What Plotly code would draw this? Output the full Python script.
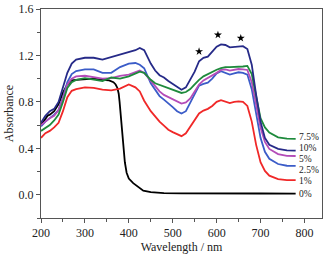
import plotly.graph_objects as go

wl = [200,210,220,230,240,250,260,270,280,300,320,340,360,380,400,415,425,435,450,460,470,480,490,500,
      510,520,530,540,550,560,570,580,590,600,610,620,630,640,650,660,670,680,690,700,710,720,740,760,780]

a10 = [0.62,0.68,0.72,0.74,0.80,0.92,1.05,1.13,1.165,1.18,1.18,1.165,1.185,1.21,1.225,1.245,1.265,1.245,1.13,1.07,
       1.03,1.01,0.98,0.955,0.93,0.905,0.925,0.99,1.06,1.15,1.18,1.19,1.23,1.275,1.295,1.29,1.27,1.275,1.28,1.28,
       1.255,1.12,0.86,0.63,0.49,0.43,0.395,0.383,0.38]
a75 = [0.55,0.575,0.60,0.64,0.69,0.80,0.92,0.97,0.99,1.005,0.99,0.98,1.01,1.0,1.02,1.04,1.06,1.05,0.99,0.96,
       0.945,0.93,0.92,0.905,0.89,0.877,0.885,0.91,0.95,0.99,1.02,1.04,1.06,1.077,1.09,1.10,1.10,1.10,1.105,1.105,
       1.11,1.04,0.85,0.66,0.58,0.535,0.495,0.483,0.482]
a5 = [0.60,0.63,0.66,0.68,0.73,0.83,0.95,1.0,1.02,1.025,1.015,1.0,1.005,1.025,1.035,1.055,1.07,1.05,0.98,0.93,
      0.89,0.86,0.84,0.82,0.80,0.786,0.795,0.83,0.89,0.95,0.985,1.005,1.03,1.05,1.075,1.08,1.07,1.075,1.083,1.08,
      1.075,0.97,0.77,0.58,0.455,0.395,0.35,0.335,0.334]
a25 = [0.59,0.63,0.66,0.69,0.73,0.84,0.97,1.04,1.065,1.08,1.08,1.05,1.05,1.10,1.13,1.135,1.12,1.09,0.96,0.90,
       0.85,0.82,0.79,0.755,0.72,0.70,0.72,0.79,0.86,0.94,0.955,0.965,1.0,1.045,1.065,1.05,1.035,1.045,1.055,1.05,
       1.035,0.91,0.69,0.49,0.37,0.31,0.265,0.25,0.249]
a1 = [0.49,0.53,0.55,0.58,0.62,0.72,0.84,0.895,0.91,0.925,0.92,0.905,0.90,0.915,0.95,0.925,0.89,0.81,0.72,0.67,
      0.63,0.595,0.56,0.54,0.52,0.505,0.53,0.59,0.65,0.70,0.725,0.74,0.765,0.80,0.815,0.80,0.79,0.80,0.805,0.80,
      0.765,0.63,0.43,0.28,0.205,0.165,0.135,0.127,0.126]

wl0 = [200,210,215,220,230,240,250,260,270,280,300,320,340,355,365,370,374,377,379,382,385,388,391,395,400,
       410,420,433,450,480,520,600,660,700,780]
a0 = [0.60,0.65,0.68,0.69,0.72,0.78,0.88,0.95,0.985,0.99,0.995,1.0,0.99,0.985,0.97,0.95,0.92,0.87,0.80,0.65,
      0.50,0.39,0.28,0.19,0.14,0.10,0.07,0.035,0.022,0.015,0.012,0.014,0.016,0.011,0.01]

series_names = ["0%", "1%", "2.5%", "5%", "7.5%", "10%"]
series_colors = ["#000000", "#f02828", "#3b5cc8", "#b44cb8", "#1e8a3c", "#262a88"]
label_y = [0.009, 0.115, 0.215, 0.31, 0.50, 0.405]
label_x = 789

star_x = [560, 603, 655]
star_y = [1.234, 1.377, 1.349]

xs = [wl0, wl, wl, wl, wl, wl]
ys = [a0, a1, a25, a5, a75, a10]

FONT = "Liberation Serif"

fig = go.Figure()
for x, y, c, n in zip(xs, ys, series_colors, series_names):
    fig.add_trace(go.Scatter(x=x, y=y, mode="lines", line=dict(color=c, width=1.8),
                             name=n, showlegend=False))

fig.add_trace(go.Scatter(x=star_x, y=star_y, mode="markers",
                         marker=dict(symbol="star", size=6, color="black", line=dict(width=0)),
                         showlegend=False))

for n, ly in zip(series_names, label_y):
    fig.add_annotation(x=label_x, y=ly, text=n, showarrow=False, xanchor="left", yanchor="middle",
                       xshift=-2, borderpad=0, font=dict(family=FONT, size=9.5, color="#222"))

axis_common = dict(showline=True, linecolor="#555", linewidth=1, mirror=True, showgrid=False,
                   zeroline=False, ticks="outside", ticklen=4, tickcolor="#555", automargin=False,
                   tickfont=dict(family=FONT, size=12, color="#222"))

fig.update_layout(
    width=331, height=254,
    margin=dict(l=41, r=9, t=9, b=36),
    paper_bgcolor="white", plot_bgcolor="white",
    xaxis=dict(range=[200, 840], tickvals=[200, 300, 400, 500, 600, 700, 800],
               minor=dict(tickvals=[250, 350, 450, 550, 650, 750], ticks="outside", ticklen=3, tickcolor="#555"),
               title=dict(text="Wavelength / nm", standoff=0,
                          font=dict(family=FONT, size=12, color="#222")),
               **axis_common),
    yaxis=dict(range=[-0.2, 1.6], tickvals=[0.0, 0.4, 0.8, 1.2, 1.6], tickformat=".1f",
               minor=dict(tickvals=[-0.2, 0.2, 0.6, 1.0, 1.4], ticks="outside", ticklen=3, tickcolor="#555"),
               title=dict(text="Absorbance", standoff=2,
                          font=dict(family=FONT, size=12, color="#222")),
               **axis_common),
)

fig.write_html("out.html", config={"displayModeBar": False},
               post_script="document.body.style.margin='0';document.body.style.overflow='hidden';")
